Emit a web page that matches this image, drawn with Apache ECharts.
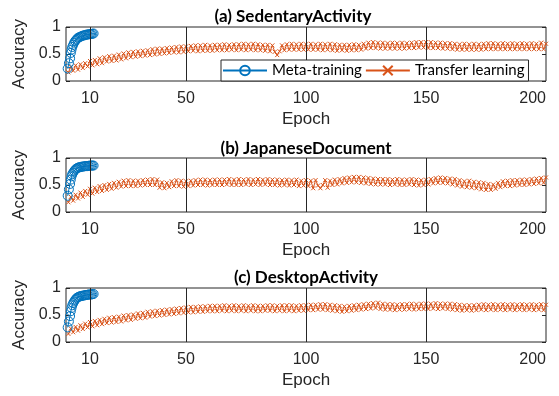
<!DOCTYPE html>
<html><head><meta charset="utf-8">
<script src="https://cdn.jsdelivr.net/npm/echarts@6/dist/echarts.min.js"></script>
<style>html,body{margin:0;padding:0;background:#fff}#c{width:559px;height:396px}</style>
</head><body><div id="c"></div>
<script>
const titles = ['(a) SedentaryActivity', '(b) JapaneseDocument', '(c) DesktopActivity'];
const seriesNames = ['Meta-training', 'Transfer learning'];
const xTickLabels = [10, 50, 100, 150, 200];
const gridLineEpochs = [10, 50, 100, 150];
const yTicks = [0, 0.5, 1];

// Meta-training: epoch positions and accuracy
const metaEpochs = [0.7,1.2,1.7,2.0,2.3,2.6,3.0,3.4,3.8,4.2,4.6,5.0,5.5,6.0,6.5,7.0,7.5,8.0,8.5,9.0,9.5,10.0,10.5,11.0,11.5];
const metaA = [0.23,0.33,0.42,0.52,0.58,0.63,0.67,0.71,0.74,0.76,0.78,0.80,0.81,0.82,0.83,0.84,0.845,0.85,0.86,0.86,0.865,0.87,0.87,0.875,0.88];
const metaB = [0.30,0.42,0.52,0.60,0.66,0.70,0.73,0.76,0.78,0.80,0.81,0.82,0.83,0.83,0.84,0.84,0.845,0.85,0.85,0.85,0.855,0.86,0.86,0.86,0.86];
const metaC = [0.27,0.38,0.48,0.57,0.63,0.68,0.72,0.75,0.78,0.80,0.82,0.83,0.84,0.85,0.85,0.86,0.86,0.87,0.87,0.875,0.88,0.88,0.88,0.885,0.89];

// Transfer learning: accuracy at epochs 1..200
const transA = [
0.16,0.26,0.19,0.29,0.21,0.31,0.24,0.33,0.27,0.37,
0.29,0.39,0.31,0.42,0.33,0.44,0.36,0.46,0.37,0.47,
0.38,0.49,0.40,0.51,0.42,0.53,0.44,0.54,0.45,0.55,
0.46,0.56,0.47,0.57,0.48,0.59,0.49,0.60,0.50,0.60,
0.51,0.61,0.52,0.62,0.53,0.63,0.53,0.64,0.54,0.64,
0.55,0.65,0.56,0.66,0.55,0.66,0.56,0.67,0.56,0.66,
0.56,0.67,0.57,0.67,0.57,0.68,0.57,0.67,0.58,0.68,
0.57,0.68,0.58,0.69,0.57,0.68,0.58,0.69,0.57,0.68,
0.57,0.67,0.56,0.67,0.55,0.66,0.54,0.48,0.55,0.66,
0.57,0.68,0.58,0.69,0.58,0.68,0.58,0.69,0.58,0.68,
0.58,0.69,0.58,0.68,0.58,0.69,0.57,0.68,0.58,0.69,
0.57,0.68,0.56,0.67,0.57,0.67,0.56,0.67,0.57,0.68,
0.57,0.67,0.58,0.69,0.60,0.71,0.61,0.72,0.61,0.71,
0.60,0.71,0.60,0.70,0.60,0.71,0.60,0.70,0.60,0.71,
0.60,0.70,0.61,0.71,0.61,0.72,0.62,0.72,0.62,0.72,
0.61,0.72,0.61,0.71,0.61,0.71,0.60,0.70,0.60,0.70,
0.59,0.69,0.58,0.68,0.58,0.69,0.58,0.68,0.58,0.69,
0.58,0.68,0.58,0.69,0.59,0.70,0.59,0.70,0.59,0.69,
0.59,0.70,0.59,0.69,0.59,0.70,0.59,0.69,0.59,0.70,
0.59,0.69,0.59,0.70,0.59,0.69,0.59,0.71,0.59,0.69];
const transB = [
0.18,0.28,0.21,0.32,0.25,0.36,0.28,0.39,0.32,0.43,
0.34,0.45,0.37,0.48,0.39,0.50,0.41,0.52,0.43,0.54,
0.45,0.56,0.47,0.58,0.48,0.59,0.48,0.58,0.48,0.58,
0.49,0.59,0.50,0.60,0.50,0.61,0.50,0.60,0.45,0.55,
0.44,0.54,0.46,0.57,0.48,0.59,0.48,0.58,0.47,0.57,
0.48,0.58,0.49,0.59,0.50,0.60,0.50,0.60,0.49,0.59,
0.50,0.60,0.50,0.60,0.50,0.60,0.51,0.61,0.50,0.60,
0.50,0.61,0.50,0.60,0.51,0.61,0.50,0.60,0.51,0.61,
0.50,0.60,0.51,0.61,0.50,0.60,0.50,0.60,0.49,0.59,
0.50,0.60,0.49,0.59,0.50,0.60,0.48,0.58,0.49,0.59,
0.48,0.58,0.44,0.59,0.49,0.44,0.50,0.59,0.45,0.58,
0.50,0.60,0.51,0.61,0.53,0.63,0.54,0.64,0.55,0.65,
0.55,0.65,0.54,0.64,0.53,0.63,0.52,0.62,0.51,0.61,
0.51,0.61,0.51,0.61,0.50,0.60,0.51,0.61,0.50,0.60,
0.50,0.60,0.51,0.61,0.50,0.60,0.49,0.59,0.50,0.60,
0.51,0.61,0.53,0.63,0.54,0.64,0.54,0.63,0.53,0.62,
0.51,0.61,0.49,0.59,0.47,0.57,0.46,0.58,0.45,0.56,
0.44,0.55,0.42,0.54,0.41,0.52,0.41,0.51,0.43,0.54,
0.46,0.57,0.48,0.58,0.48,0.59,0.49,0.59,0.50,0.60,
0.50,0.60,0.51,0.61,0.52,0.62,0.53,0.63,0.54,0.64];
const transC = [
0.15,0.25,0.18,0.28,0.21,0.31,0.24,0.34,0.27,0.37,
0.29,0.39,0.31,0.41,0.33,0.43,0.35,0.45,0.36,0.46,
0.37,0.47,0.38,0.49,0.40,0.50,0.41,0.51,0.43,0.53,
0.44,0.54,0.45,0.56,0.47,0.57,0.48,0.58,0.49,0.59,
0.50,0.60,0.51,0.61,0.52,0.62,0.53,0.63,0.54,0.64,
0.55,0.65,0.55,0.65,0.56,0.66,0.56,0.66,0.57,0.67,
0.57,0.67,0.57,0.67,0.58,0.68,0.57,0.67,0.58,0.68,
0.57,0.67,0.58,0.68,0.57,0.67,0.58,0.68,0.57,0.67,
0.57,0.67,0.58,0.68,0.58,0.68,0.57,0.67,0.58,0.68,
0.57,0.68,0.58,0.68,0.57,0.67,0.58,0.68,0.58,0.68,
0.59,0.69,0.59,0.69,0.60,0.70,0.60,0.70,0.59,0.69,
0.58,0.68,0.57,0.67,0.56,0.66,0.57,0.67,0.58,0.68,
0.59,0.69,0.60,0.70,0.61,0.71,0.62,0.72,0.63,0.73,
0.61,0.71,0.60,0.70,0.60,0.70,0.59,0.69,0.60,0.70,
0.60,0.70,0.61,0.71,0.60,0.70,0.61,0.71,0.61,0.71,
0.61,0.71,0.62,0.72,0.61,0.71,0.62,0.71,0.61,0.71,
0.60,0.70,0.59,0.69,0.58,0.68,0.59,0.68,0.58,0.68,
0.59,0.69,0.60,0.70,0.59,0.69,0.60,0.70,0.59,0.69,
0.60,0.70,0.59,0.69,0.60,0.70,0.59,0.69,0.60,0.70,
0.59,0.69,0.60,0.70,0.59,0.69,0.60,0.70,0.59,0.69];

const metaSets = [metaA, metaB, metaC];
const transSets = [transA, transB, transC];

// layout
const gridTops = [27, 158, 288];
const titleXs = [293, 306, 306];
const titleYs = [17, 148.5, 277.5];
const GL = 66, GW = 480, GH = 54;
const BLUE = '#0072BD', ORANGE = '#D95319', INK = '#262626';
const CROSS = 'path://M0,0L10,10M10,0L0,10';

const chart = echarts.init(document.getElementById('c'), null, {renderer: 'canvas'});
const grid = [], xAxis = [], yAxis = [], series = [], graphic = [];
for (let i = 0; i < 3; i++) {
  grid.push({left: GL, top: gridTops[i], width: GW, height: GH, show: true,
    borderColor: INK, borderWidth: 1, backgroundColor: '#fff', containLabel: false});
  xAxis.push({type: 'value', gridIndex: i, min: 0, max: 200, interval: 10,
    axisLine: {show: false}, axisTick: {show: false}, splitLine: {show: false},
    axisLabel: {color: INK, fontSize: 16, fontFamily: 'Liberation Sans', margin: 10,
      alignMaxLabel: 'right',
      formatter: v => xTickLabels.includes(v) ? String(v) : ''},
    name: 'Epoch', nameLocation: 'middle', nameGap: 30,
    nameTextStyle: {color: INK, fontSize: 17, fontFamily: 'Liberation Sans'}});
  yAxis.push({type: 'value', gridIndex: i, min: yTicks[0], max: yTicks[2], interval: 0.5,
    position: 'left', axisLine: {show: false},
    axisTick: {show: true, inside: true, length: 4, lineStyle: {color: INK}},
    splitLine: {show: false},
    axisLabel: {color: INK, fontSize: 16, fontFamily: 'Liberation Sans', margin: 5},
    name: 'Accuracy', nameLocation: 'middle', nameGap: 26, nameRotate: 90,
    nameTextStyle: {color: INK, fontSize: 17, fontFamily: 'Liberation Sans'}});
  yAxis.push({type: 'value', gridIndex: i, min: yTicks[0], max: yTicks[2], interval: 0.5,
    position: 'right', axisLine: {show: false},
    axisTick: {show: true, inside: true, length: 4, lineStyle: {color: INK}},
    splitLine: {show: false}, axisLabel: {show: false}});
  // grid lines at tick epochs
  series.push({type: 'line', name: 'grid' + i, xAxisIndex: i, yAxisIndex: i * 2, data: [],
    z: 1, silent: true, animation: false,
    markLine: {silent: true, symbol: ['none', 'none'], label: {show: false}, animation: false,
      lineStyle: {color: INK, width: 1, type: 'solid'},
      emphasis: {disabled: true},
      data: gridLineEpochs.map(v => ({xAxis: v}))}});
  series.push({type: 'line', name: seriesNames[1], xAxisIndex: i, yAxisIndex: i * 2,
    data: transSets[i].map((v, k) => [k + 1, v]),
    symbol: CROSS, symbolSize: 4, showSymbol: true, showAllSymbol: true,
    itemStyle: {color: ORANGE, borderColor: ORANGE, borderWidth: 1},
    lineStyle: {color: ORANGE, width: 1}, z: 2, animation: false,
    emphasis: {disabled: true}});
  series.push({type: 'line', name: seriesNames[0], xAxisIndex: i, yAxisIndex: i * 2,
    data: metaEpochs.map((x, k) => [x, metaSets[i][k]]),
    symbol: 'circle', symbolSize: 9, showSymbol: true, showAllSymbol: true,
    itemStyle: {color: 'rgba(255,255,255,0)', borderColor: BLUE, borderWidth: 1},
    lineStyle: {color: BLUE, width: 1}, z: 3, animation: false,
    emphasis: {disabled: true}});
  graphic.push({type: 'text', x: titleXs[i], y: titleYs[i], z: 10,
    style: {text: titles[i], font: 'bold 17px Lato', fill: '#000',
      align: 'center', verticalAlign: 'middle', textAlign: 'center', textVerticalAlign: 'middle'}});
}

chart.setOption({
  animation: false,
  backgroundColor: '#fff',
  grid, xAxis, yAxis, series, graphic,
  legend: {data: seriesNames, left: 221, top: 60, orient: 'horizontal',
    itemWidth: 44, itemHeight: 12, itemGap: 3, padding: [3, 4, 3, 1],
    backgroundColor: '#fff', borderColor: INK, borderWidth: 1, borderRadius: 0,
    selectedMode: false, z: 20,
    textStyle: {fontFamily: 'Lato', fontSize: 15, color: '#000'}}
});
</script>
</body></html>
